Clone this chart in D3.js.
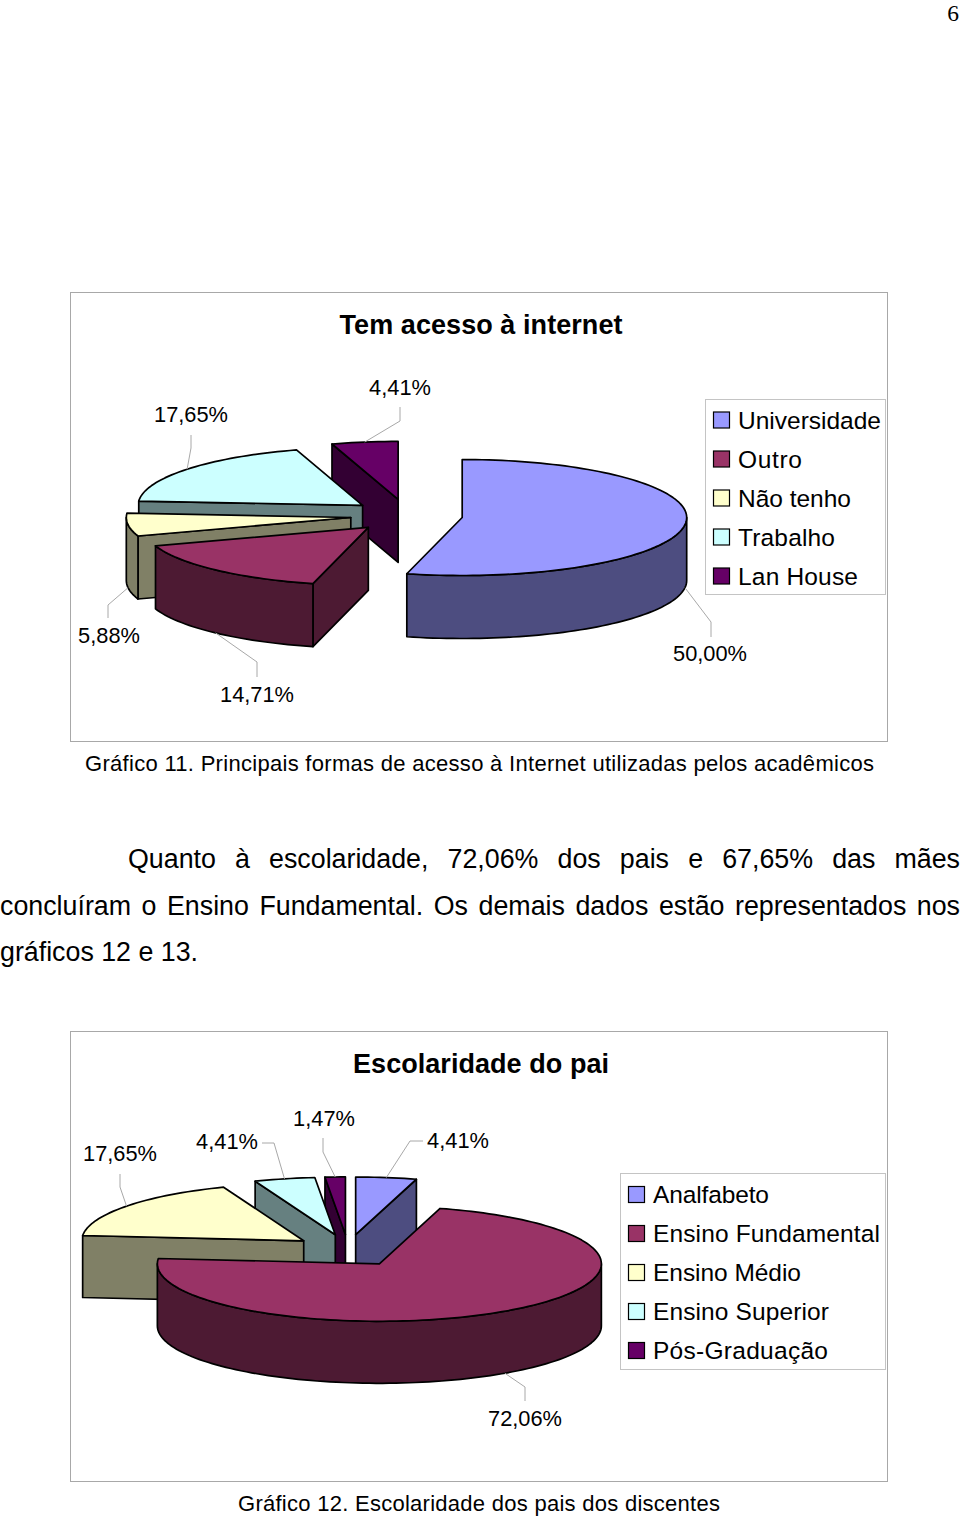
<!DOCTYPE html>
<html><head><meta charset="utf-8">
<style>html,body{margin:0;padding:0;background:#fff}svg{display:block}text{font-family:"Liberation Sans",Arial,sans-serif;fill:#000}</style>
<script src="https://cdnjs.cloudflare.com/ajax/libs/d3/7.8.5/d3.min.js"></script>
</head><body><script>
// ---- data ----
const categoriesAcesso = ["Universidade","Outro","Não tenho","Trabalho","Lan House"];
const valuesAcesso = [50.00,14.71,5.88,17.65,4.41];
const categoriesPai = ["Analfabeto","Ensino Fundamental","Ensino Médio","Ensino Superior","Pós-Graduação"];
const valuesPai = [4.41,72.06,17.65,4.41,1.47];
const titleAcesso = "Tem acesso à internet";
const titlePai = "Escolaridade do pai";
const captionAcesso = "Gráfico 11. Principais formas de acesso à Internet utilizadas pelos acadêmicos";
const captionPai = "Gráfico 12. Escolaridade dos pais dos discentes";
const bodyLines = ["Quanto à escolaridade, 72,06% dos pais e 67,65% das mães",
  "concluíram o Ensino Fundamental. Os demais dados estão representados nos",
  "gráficos 12 e 13."];
// ---- styles & layout ----
const topColors = ["#9999FF","#993366","#FFFFCC","#CCFFFF","#660066"];
const wallColors = ["#4D4D80","#4D1A33","#808066","#668080","#330033"];
const layoutAcesso = {
  box:[70,292,887,741], cx:406.5, cy:515.5, rx:224.5, ry:58, depth:63, order:[4,3,2,1,0],
  title:[481,334,283], caption:[85,771,789],
  legend:{box:[705,399,885,594], sw:713, tx:738, y0:420, widths:[143,64,113,97,120]},
  labels:[[710,661,[711,622],[711,637]],[257,702,[257,662],[257,677]],[109,643,[108,605],[108,618]],
          [191,422,[191,448],[191,435]],[400,395,[400,421],[400,407]]],
  front:[true,true,true,false,false]
};
const layoutPai = {
  box:[70,1031,887,1481], cx:348, cy:1250.5, rx:222, ry:57.5, depth:62, order:[4,3,0,2,1],
  title:[481,1073,256], caption:[238,1511,482],
  legend:{box:[620,1173,885,1369], sw:628, tx:653, y0:1194.5, widths:[116,227,148,176,175]},
  labels:[[458,1148,[410,1141],[423,1141]],[525,1426,[525,1387],[525,1401]],[120,1161,[120,1187],[120,1174]],
          [227,1149,[274,1143],[262,1143]],[324,1126,[323,1152],[323,1138]]],
  front:[false,true,false,false,false]
};
const explodeX = 0.25, explodeY = 0.28;
const pct = v => d3.format(".2f")(v).replace(".",",")+"%";

const svg = d3.select("body").append("svg").attr("width",960).attr("height",1516);
svg.append("rect").attr("width",960).attr("height",1516).attr("fill","#fff");

function txt(s,x,y,size,opts={}){
  const t = svg.append("text").attr("x",x).attr("y",y).attr("font-size",size).text(s);
  if(opts.anchor) t.attr("text-anchor",opts.anchor);
  if(opts.bold) t.attr("font-weight","bold");
  if(opts.family) t.style("font-family",opts.family);
  if(opts.width){ t.attr("textLength",opts.width).attr("lengthAdjust","spacing"); }
  return t;
}

function drawChart(cats,vals,L,title){
  const [bx0,by0,bx1,by1]=L.box;
  svg.append("rect").attr("x",bx0+.5).attr("y",by0+.5).attr("width",bx1-bx0).attr("height",by1-by0)
    .attr("fill","#fff").attr("stroke","#a8a8a8").attr("stroke-width",1);
  txt(title,L.title[0],L.title[1],27,{anchor:"middle",bold:true,width:L.title[2]});

  const xs=d3.scaleLinear().domain([-1,1]).range([L.cx-L.rx,L.cx+L.rx]);
  const ys=d3.scaleLinear().domain([-1,1]).range([L.cy-L.ry,L.cy+L.ry]);
  const arcs=d3.pie().sort(null).startAngle(0).endAngle(2*Math.PI)(vals);
  const slices=arcs.map((a,i)=>{
    const m=(a.startAngle+a.endAngle)/2;
    const ax=explodeX*Math.sin(m), ay=-explodeY*Math.cos(m);
    const rim=th=>[xs(ax+Math.sin(th)),ys(ay-Math.cos(th))];
    return {i,a0:a.startAngle,a1:a.endAngle,m,apex:[xs(ax),ys(ay)],rim};
  });
  const line=d3.line();
  const samples=(t0,t1)=>{const n=Math.max(2,Math.ceil((t1-t0)/0.03));return d3.range(n+1).map(k=>t0+(t1-t0)*k/n);};
  const g=svg.append("g").attr("stroke","#000").attr("stroke-width",1.7).attr("stroke-linejoin","round");
  L.order.forEach(i=>{
    const s=slices[i], d=L.depth;
    const down=p=>[p[0],p[1]+d];
    const wall=(pts,fill)=>g.append("path").attr("d",line(pts.concat(pts.slice().reverse().map(down)))+"Z").attr("fill",fill);
    if(Math.sin(s.a0)<-1e-6) wall([s.apex,s.rim(s.a0)],wallColors[i]);
    if(Math.sin(s.a1)>1e-6) wall([s.apex,s.rim(s.a1)],wallColors[i]);
    const w0=Math.max(s.a0,Math.PI/2), w1=Math.min(s.a1,3*Math.PI/2);
    if(w1>w0) wall(samples(w0,w1).map(s.rim),wallColors[i]);
    const top=[s.apex].concat(samples(s.a0,s.a1).map(s.rim));
    g.append("path").attr("d",line(top)+"Z").attr("fill",topColors[i]);
  });
  // leader lines and labels
  slices.forEach(s=>{
    const lab=L.labels[s.i], end=s.rim(s.m);
    const tip=L.front[s.i]?[end[0],end[1]+L.depth]:end;
    svg.append("path").attr("d",line([lab[3],lab[2],tip])).attr("fill","none").attr("stroke","#a8a8a8").attr("stroke-width",1);
    txt(pct(vals[s.i]),lab[0],lab[1],21.8,{anchor:"middle",width:74*(pct(vals[s.i]).length===6?1:62/74)});
  });
  // legend
  const lg=L.legend, [lx0,ly0,lx1,ly1]=lg.box;
  svg.append("rect").attr("x",lx0+.5).attr("y",ly0+.5).attr("width",lx1-lx0).attr("height",ly1-ly0)
    .attr("fill","#fff").attr("stroke","#c4c4c4").attr("stroke-width",1);
  const rowY=d3.scaleLinear().domain([0,1]).range([lg.y0,lg.y0+39]);
  cats.forEach((c,i)=>{
    svg.append("rect").attr("x",lg.sw+.5).attr("y",rowY(i)-8).attr("width",16).attr("height",16)
      .attr("fill",topColors[i]).attr("stroke","#000").attr("stroke-width",1.2);
    txt(c,lg.tx,rowY(i)+8.5,24.5,{width:lg.widths[i]});
  });
  txt(L===layoutAcesso?captionAcesso:captionPai,L.caption[0],L.caption[1],22,{width:L.caption[2]});
}

drawChart(categoriesAcesso,valuesAcesso,layoutAcesso,titleAcesso);
drawChart(categoriesPai,valuesPai,layoutPai,titlePai);

// page number
txt("6",959,21,23.5,{anchor:"end",family:'"Liberation Serif",serif'});
// justified body text
function justified(s,x0,x1,y,size){
  const t=txt(s,x0,y,size);
  const natural=t.node().getComputedTextLength();
  const spaces=(s.match(/ /g)||[]).length;
  t.attr("word-spacing",(x1-x0-natural)/spaces);
}
justified(bodyLines[0],128,960,868,26.8);
justified(bodyLines[1],0,960,915,26.8);
txt(bodyLines[2],0,961,26.8,{width:198});
</script></body></html>
